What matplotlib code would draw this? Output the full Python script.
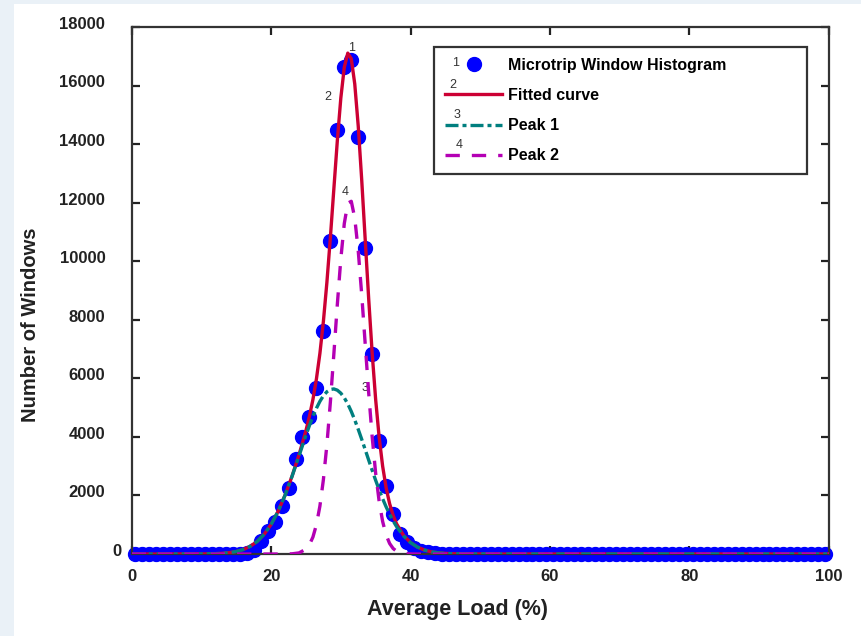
import numpy as np
import matplotlib
matplotlib.use('Agg')
import matplotlib.pyplot as plt
import matplotlib.transforms as mtransforms
from matplotlib.patches import Rectangle

plt.rcParams['font.family'] = ['Liberation Sans', 'DejaVu Sans']

# histogram points (bin centres 0.5 ... 99.5)
bin_x = np.arange(0.5, 100, 1.0)
counts = np.zeros(100)
hist_known = {16.5: 50, 17.5: 150, 18.5: 440, 19.5: 800, 20.5: 1100, 21.5: 1640,
              22.5: 2260, 23.5: 3250, 24.5: 4000, 25.5: 4680, 26.5: 5680, 27.5: 7620,
              28.5: 10690, 29.5: 14480, 30.5: 16630, 31.5: 16870, 32.5: 14240,
              33.5: 10450, 34.5: 6830, 35.5: 3860, 36.5: 2340, 37.5: 1350, 38.5: 700,
              39.5: 420, 40.5: 220, 41.5: 120, 42.5: 60, 43.5: 30}
for k, v in hist_known.items():
    counts[int(k)] = v

# curves
curve_x = [0, 5, 10, 12, 13, 14, 15, 16, 17, 18, 19, 20, 21, 22, 23, 24, 25, 25.5, 26, 26.5,
           27, 27.5, 28, 28.5, 29, 29.5, 30, 30.5, 31, 31.5, 32, 32.5, 33, 33.5, 34, 34.5,
           35, 35.5, 36, 36.5, 37, 37.5, 38, 39, 40, 41, 42, 43, 44, 45, 46, 48, 50, 60,
           70, 80, 90, 100]
peak1 = [0, 0, 2, 12, 23, 46, 85, 153, 262, 429, 673, 1012, 1456, 2008, 2651, 3350, 4055,
         4389, 4700, 4978, 5215, 5405, 5542, 5620, 5639, 5596, 5494, 5335, 5126, 4871, 4579,
         4258, 3917, 3564, 3208, 2857, 2516, 2192, 1889, 1611, 1359, 1134, 936, 617, 390,
         236, 136, 76, 40, 20, 10, 2, 0, 0, 0, 0, 0, 0]
peak2 = [0, 0, 0, 0, 0, 0, 0, 0, 0, 0, 0, 0, 0, 1, 7, 38, 166, 318, 580, 1002, 1639, 2540,
         3729, 5185, 6830, 8524, 10079, 11291, 11983, 12048, 11476, 10355, 8854, 7170, 5503,
         4000, 2755, 1797, 1111, 651, 361, 190, 94, 20, 3, 0, 0, 0, 0, 0, 0, 0, 0, 0, 0, 0,
         0, 0]
fitted = [0, 0, 2, 12, 23, 46, 85, 153, 262, 429, 673, 1012, 1456, 2009, 2658, 3388, 4221,
          4707, 5280, 5980, 6854, 7945, 9271, 10805, 12469, 14120, 15573, 16626, 17109, 16919,
          16055, 14613, 12771, 10734, 8711, 6857, 5271, 3989, 3000, 2262, 1720, 1324, 1030,
          637, 393, 236, 136, 76, 40, 20, 10, 2, 0, 0, 0, 0, 0, 0]

x_ticks = [0, 20, 40, 60, 80, 100]
y_ticks = list(range(0, 18001, 2000))

blue = '#0000ff'
red = '#cc0033'
teal = '#007f7f'
magenta = '#b400b4'
dark = '#222222'

fig = plt.figure(figsize=(8.62, 6.36), dpi=100)
fig.patch.set_facecolor('#eaf1f7')
# white slide area, light blue border strip on the left and top
fig.patches.append(Rectangle((14 / 862, 0), 1 - 14 / 862, 1 - 4 / 636, transform=fig.transFigure,
                             facecolor='white', edgecolor='none', zorder=-10))
ax = fig.add_axes([0.1528, 0.1289, 0.8086, 0.8286])
ax.set_facecolor('white')

ax.plot(bin_x, counts, 'o', color=blue, ms=10, mec=blue, zorder=2,
        label='Microtrip Window Histogram', clip_on=False)
ax.plot(curve_x, fitted, '-', color=red, lw=2.4, zorder=3, label='Fitted curve')
ax.plot(curve_x, peak1, color=teal, lw=2.4, ls=(0, (3.9, 1.2, 1.2, 1.2)), zorder=4,
        label='Peak 1')
ax.plot(curve_x, peak2, color=magenta, lw=2.4, ls=(0, (4.3, 3.6)), zorder=5,
        label='Peak 2')

# small curve numbers
ax.text(31.6, 17300, '1', fontsize=9, color='#333333', ha='center', va='center')
ax.text(28.2, 15600, '2', fontsize=9, color='#333333', ha='center', va='center')
ax.text(33.5, 5670, '3', fontsize=9, color='#333333', ha='center', va='center')
ax.text(30.6, 12350, '4', fontsize=9, color='#333333', ha='center', va='center')

ax.set_xlim(0, 100)
ax.set_ylim(0, 18000)
ax.set_xticks(x_ticks)
ax.set_yticks(y_ticks)
ax.tick_params(direction='in', length=6, width=1.6, top=True, right=True,
               labelsize=12, colors=dark)
ax.tick_params(axis='y', pad=19)
ax.tick_params(axis='x', pad=11)
for lab in ax.get_xticklabels() + ax.get_yticklabels():
    lab.set_fontweight('bold')
ylabs = ax.yaxis.get_majorticklabels()
for i, lab in enumerate(ylabs):
    dx = 12 / 72 if i == 0 else 0
    offset = mtransforms.ScaledTranslation(dx, 3 / 72, fig.dpi_scale_trans)
    lab.set_transform(lab.get_transform() + offset)
for sp in ax.spines.values():
    sp.set_color('#333333')
    sp.set_linewidth(1.6)

ax.set_xlabel('Average Load (%)', fontsize=15.5, fontweight='bold', color=dark)
ax.set_ylabel('Number of Windows', fontsize=14.5, fontweight='bold', color=dark)
ax.xaxis.set_label_coords(0.468, -0.085)
ax.yaxis.set_label_coords(-0.132, 0.435)

leg = ax.legend(loc='upper left', bbox_to_anchor=(434 / 862, 1 - 173 / 636, 373 / 862, 126 / 636),
                bbox_transform=fig.transFigure, mode='expand', fancybox=False, framealpha=1,
                edgecolor='#333333', handlelength=3.6, handletextpad=0.35,
                labelspacing=0.95, borderpad=0.68, borderaxespad=0, numpoints=1,
                prop={'weight': 'bold', 'size': 11.5})
leg.get_frame().set_linewidth(1.6)

# numbers inside legend
for lbl, px, py in [('1', 456, 63), ('2', 453, 85), ('3', 457, 115), ('4', 459, 145)]:
    fig.text(px / 862, 1 - py / 636, lbl, fontsize=9, color='#333333', ha='center', va='center')

fig.savefig('out.png', dpi=100, facecolor=fig.get_facecolor())
